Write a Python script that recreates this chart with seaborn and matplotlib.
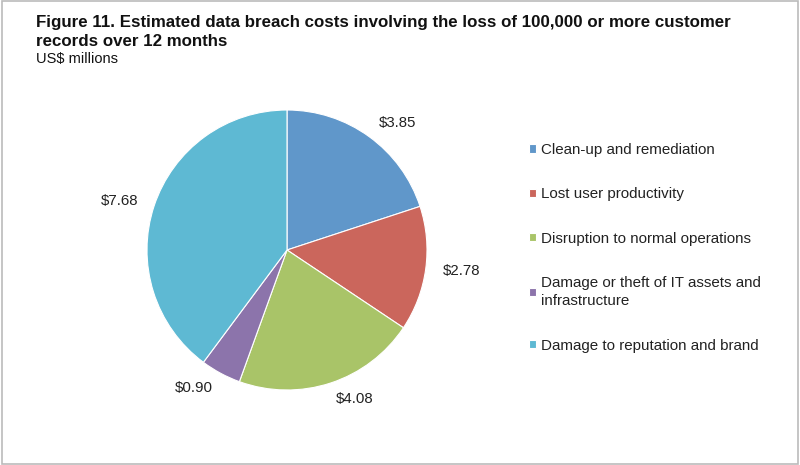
import matplotlib
matplotlib.use("Agg")
import matplotlib.pyplot as plt
import seaborn as sns
from matplotlib.patches import Rectangle

sns.set_theme(style="white")
plt.rcParams['font.family'] = ['Liberation Sans', 'DejaVu Sans']

categories = ["Clean-up and remediation", "Lost user productivity",
              "Disruption to normal operations",
              "Damage or theft of IT assets and\ninfrastructure",
              "Damage to reputation and brand"]
values = [3.85, 2.78, 4.08, 0.90, 7.68]
value_labels = ["$3.85", "$2.78", "$4.08", "$0.90", "$7.68"]
colors = ["#6097CA", "#CB665C", "#A9C468", "#8C74AB", "#5EB9D3"]

fig = plt.figure(figsize=(8, 4.65), dpi=100)
ax = fig.add_axes([147/800, 75/465, 280/800, 280/465])
wedges, texts = ax.pie(values, labels=value_labels, colors=colors,
                       startangle=90, counterclock=False, labeldistance=1.12,
                       wedgeprops=dict(edgecolor="white", linewidth=0.8),
                       textprops=dict(fontsize=10.8, color="#222222"))
ax.set_xlim(-1, 1)
ax.set_ylim(-1, 1)
ax.set_aspect("equal")

leg = fig.legend(wedges, categories, loc="upper left",
                 bbox_to_anchor=(523/800, 1 - 137/465), frameon=False,
                 fontsize=10.9, handlelength=0.48, handleheight=0.48,
                 handletextpad=0.3, labelspacing=2.0, borderaxespad=0)
for txt in leg.get_texts():
    txt.set_color("#222222")
    txt.set_linespacing(1.4)

fig.text(36/800, 1 - 15/465,
         "Figure 11. Estimated data breach costs involving the loss of 100,000 or more customer\nrecords over 12 months",
         fontsize=12.2, fontweight="bold", ha="left", va="top", color="#111111",
         linespacing=1.3)
fig.text(36/800, 1 - 52/465, "US$ millions", fontsize=10.5, ha="left", va="top",
         color="#111111")

fig.patches.append(Rectangle((0.002, 0.003), 0.996, 0.994, transform=fig.transFigure,
                             fill=False, edgecolor="#BBBBBB", linewidth=1.2))

fig.savefig("out.png", dpi=100)
